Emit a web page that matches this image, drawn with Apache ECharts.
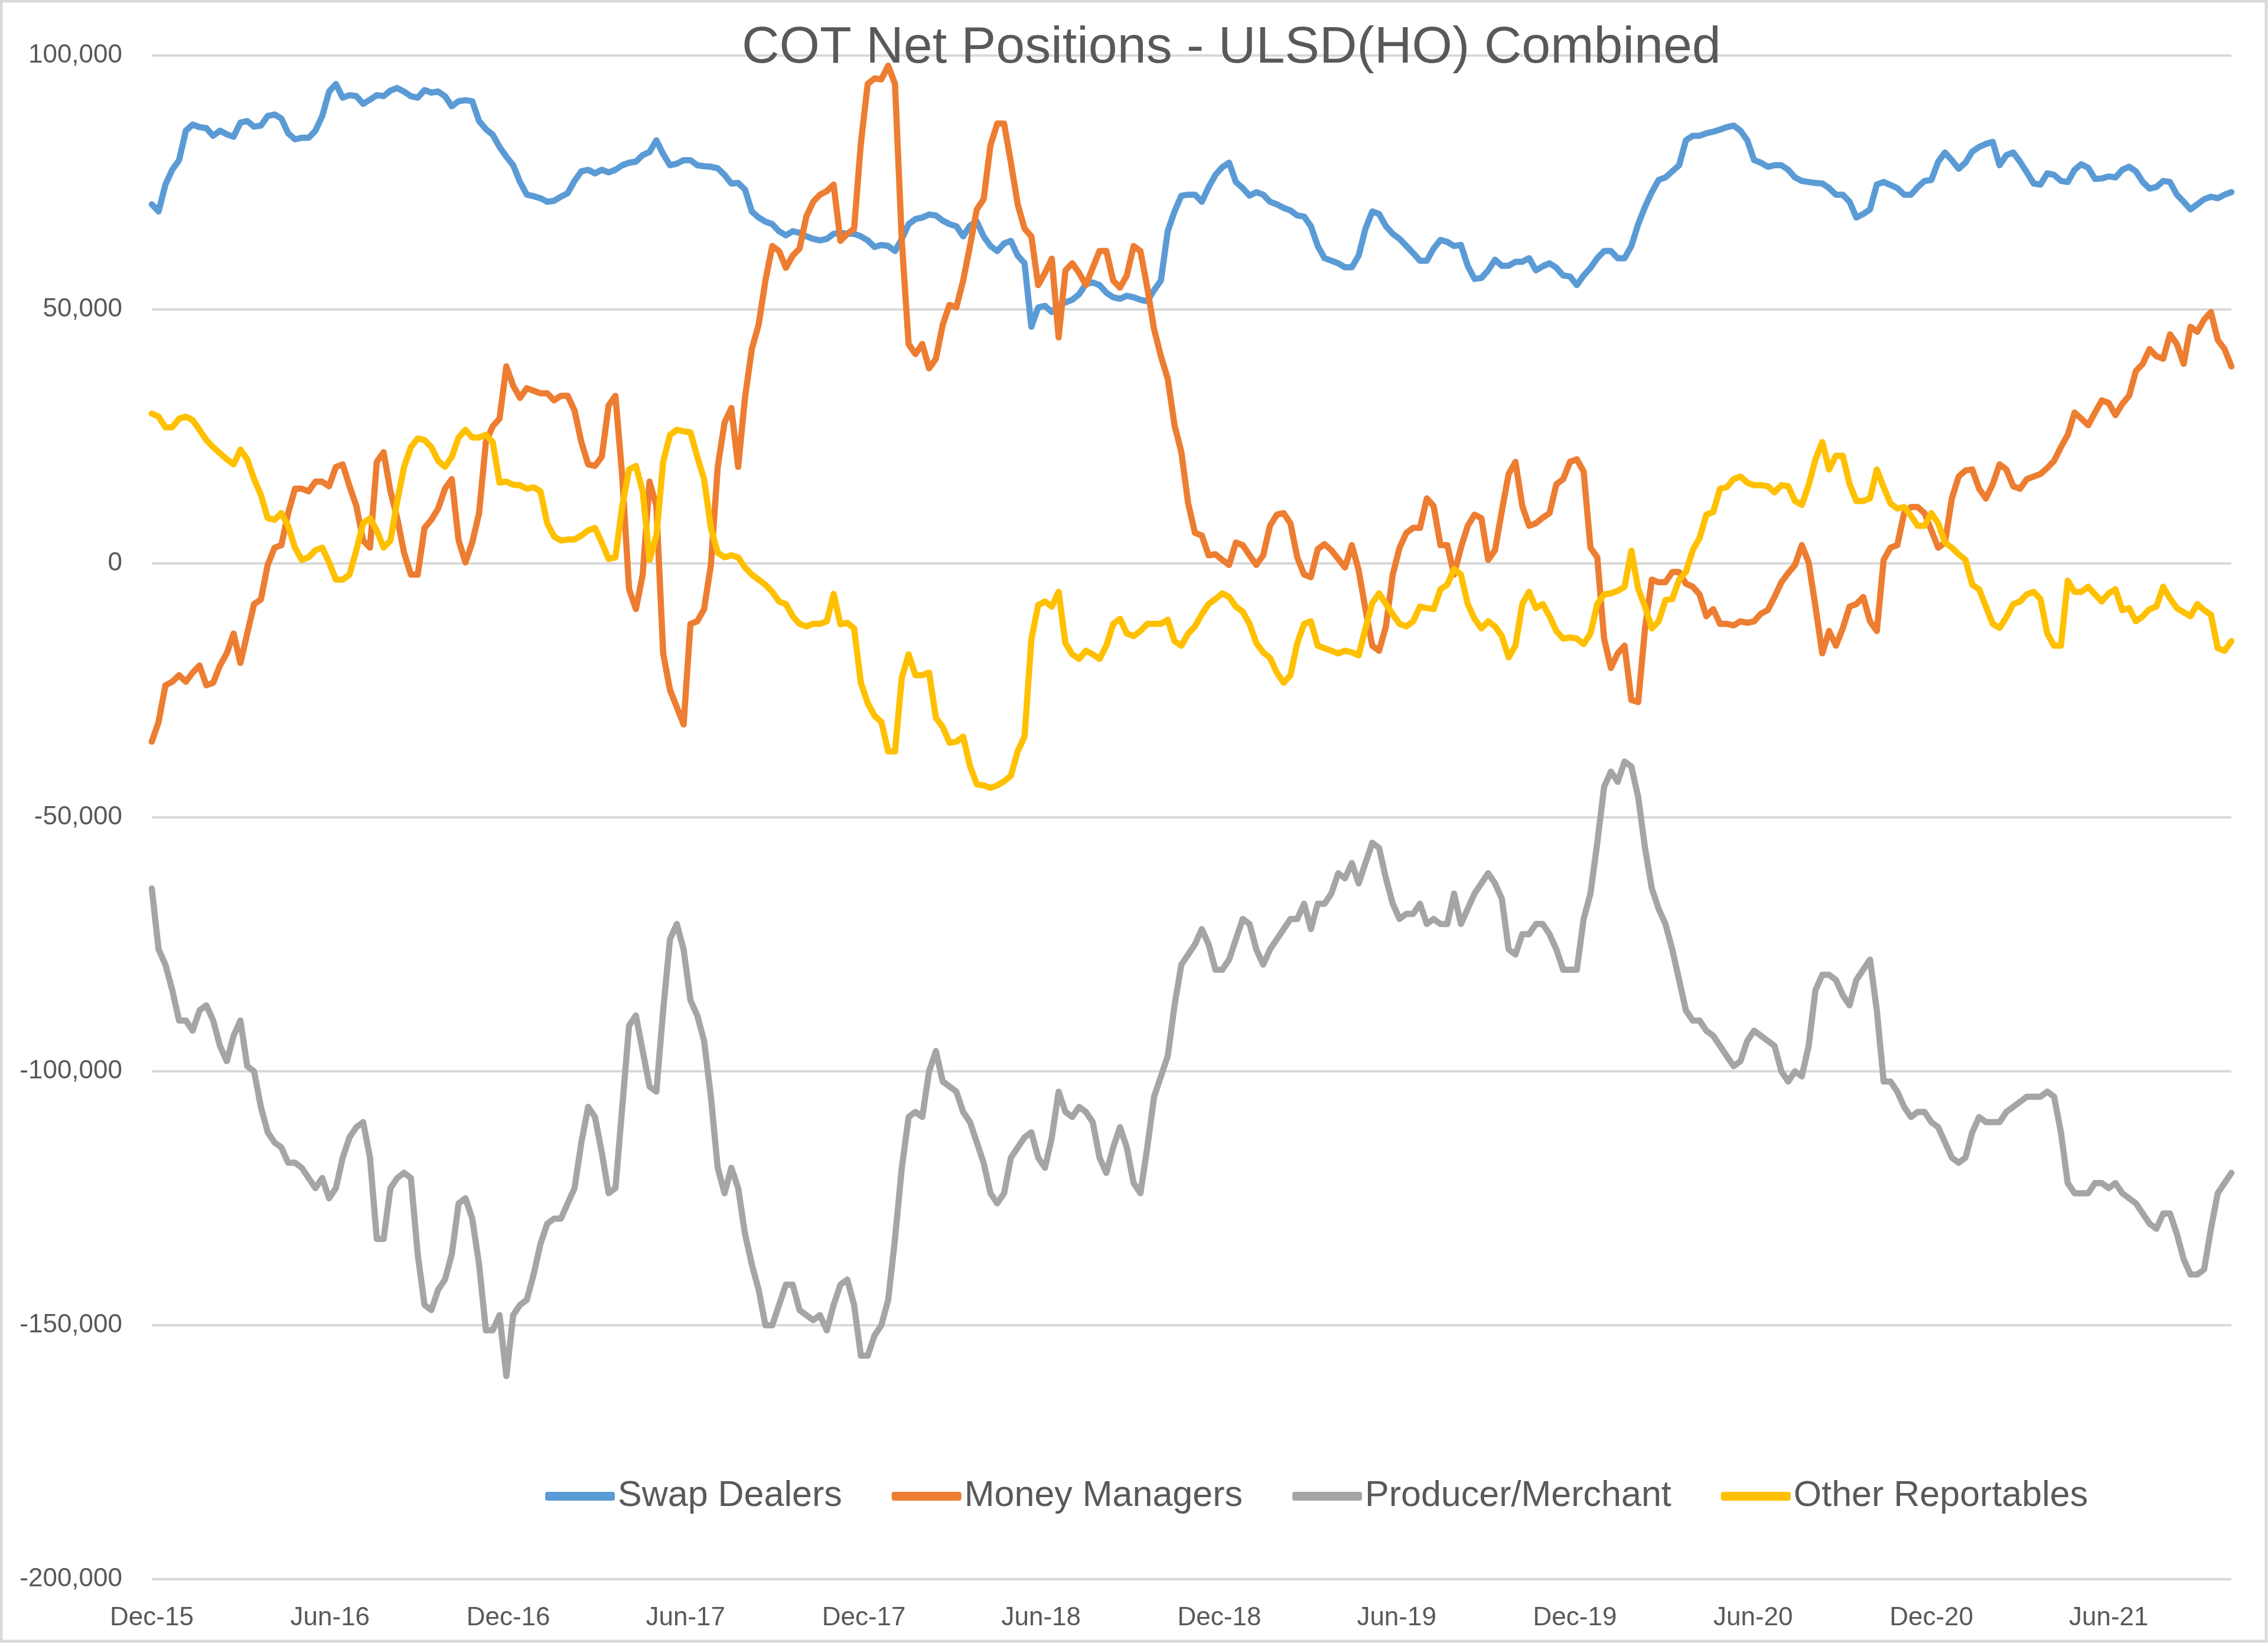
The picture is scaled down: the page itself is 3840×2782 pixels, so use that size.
<!DOCTYPE html>
<html><head><meta charset="utf-8">
<script src="https://cdn.jsdelivr.net/npm/echarts@6/dist/echarts.min.js"></script>
<style>html,body{margin:0;padding:0;background:#fff}#c{width:3840px;height:2782px}</style>
</head><body><div id="c"></div>
<script>
// Weekly COT report dates start 2015-12-01
const firstWeek = [2015, 11, 1];
const tickLabels = ['Dec-15','Jun-16','Dec-16','Jun-17','Dec-17','Jun-18','Dec-18','Jun-19','Dec-19','Jun-20','Dec-20','Jun-21'];
const tickMonths = [[2015,11],[2016,5],[2016,11],[2017,5],[2017,11],[2018,5],[2018,11],[2019,5],[2019,11],[2020,5],[2020,11],[2021,5]];
const yTicks = [-200000,-150000,-100000,-50000,0,50000,100000];

const swapDealers = [
70700,69300,74600,77500,79400,85200,86400,85900,85700,84200,
85200,84500,84000,86800,87100,86000,86200,88100,88400,87600,
84700,83500,83800,83800,85200,88100,92900,94400,91700,92200,
92000,90500,91300,92200,92000,93100,93600,92900,92000,91700,
93200,92700,92900,92000,90000,91000,91200,91000,87100,85500,
84400,82000,80100,78400,75100,72600,72300,71900,71200,71400,
72200,72900,75300,77200,77500,76800,77500,77000,77500,78400,
78900,79100,80400,81000,83300,80600,78400,78700,79400,79400,
78400,78200,78100,77800,76500,74800,74900,73600,69300,68100,
67300,66800,65400,64600,65400,65100,64400,63900,63600,63900,
64900,65100,64900,64900,64400,63600,62300,62700,62500,61500,
63900,66800,67800,68100,68700,68500,67500,66800,66400,64400,
66500,67300,64400,62500,61500,63000,63500,60600,59100,46600,
50400,50700,49500,50900,51400,51900,53000,55000,55300,54800,
53300,52400,52100,52700,52400,51900,51600,53800,55700,65400,
69300,72400,72600,72600,71200,74100,76500,78000,78900,75100,
73900,72400,73100,72600,71200,70700,70000,69500,68500,68300,
66400,62500,60100,59600,59100,58300,58300,60600,65900,69300,
68800,66400,64900,63900,62500,61100,59600,59600,62000,63700,
63300,62500,62700,58600,56000,56200,57700,59800,58600,58600,
59400,59400,60100,57700,58500,59100,58200,56700,56500,54800,
56700,58200,60100,61500,61500,60100,60100,62500,66800,70200,
73100,75500,76000,77200,78400,83300,84200,84200,84700,85000,
85400,85900,86200,85200,83300,79400,78900,78100,78400,78400,
77500,76000,75300,75100,74900,74800,73900,72600,72600,71200,
68100,68800,69700,74600,75100,74500,73900,72600,72600,74100,
75300,75500,79100,80900,79400,77700,78900,81100,82000,82600,
83000,78400,80400,80900,79100,77000,74800,74600,76800,76500,
75300,75100,77500,78600,77900,75700,75800,76200,76000,77500,
78100,77200,75100,73800,74100,75300,75100,72600,71200,69700,
70700,71700,72200,71900,72600,73100];

const moneyManagers = [
-35100,-31200,-24000,-23300,-22000,-23300,-21500,-20100,-24000,-23500,
-20100,-17700,-13800,-19600,-13800,-8000,-7100,-300,3100,3600,
9900,14700,14700,14200,16100,16100,15200,19000,19500,15200,
11300,4500,3100,20000,21900,14200,8900,2100,-2200,-2200,
7000,8600,10800,14700,16600,4500,200,4100,9900,23900,
27000,28500,38800,35000,32600,34500,34000,33500,33500,32100,
33000,33000,30100,23900,19500,19200,21000,31100,33000,17100,
-5100,-9000,-2200,16100,11300,-17700,-24900,-28300,-31700,-11900,
-11400,-9000,-300,19000,27700,30600,19000,32600,42200,47000,
55700,62500,61500,58200,60600,62000,68300,71200,72600,73300,
74600,63500,64900,65900,82800,94400,95500,95300,98000,94400,
63500,43200,41200,43200,38400,40300,47000,50900,50400,55700,
62500,69700,71700,82300,86600,86600,78900,70700,65900,64400,
54800,57200,60000,44500,57700,59100,57200,54800,58200,61500,
61500,55700,54300,56700,62500,61500,54300,46100,40800,36400,
27200,21900,11800,6000,5500,1600,1800,700,-300,4100,
3600,1600,-300,1600,7400,9600,9900,7900,1200,-2200,
-2700,2800,3800,2600,900,-800,3600,-1300,-9000,-16200,
-17200,-12400,-2200,3100,6000,7000,7000,12800,11300,3600,
3600,-2200,3100,7400,9600,8900,700,2600,10300,17600,
20000,11300,7400,7900,9000,9900,15600,16600,20000,20500,
18100,3100,1200,-14800,-20600,-17700,-16200,-26900,-27300,-12800,
-3200,-3700,-3700,-1700,-1700,-4000,-4600,-6100,-10400,-9000,
-11900,-11900,-12200,-11400,-11700,-11400,-9900,-9200,-6600,-3700,
-1900,-300,3600,200,-8500,-17700,-13300,-16200,-12800,-8500,
-8000,-6600,-11400,-13300,700,3100,3600,9900,11100,11100,
9900,6500,3100,4100,12800,17100,18300,18500,14700,12800,
15600,19500,18500,15200,14700,16600,17100,17600,18800,20200,
22900,25300,29700,28500,27200,29700,32100,31600,29200,31400,
33000,37900,39300,42200,40800,40300,45100,43200,39300,46600,
45600,48000,49500,44000,42200,38800];

const producerMerchant = [
-64000,-76000,-79000,-84000,-90000,-90000,-92000,-88000,-87000,-90000,
-95000,-98000,-93000,-90000,-99000,-100000,-107000,-112000,-114000,-115000,
-118000,-118000,-119000,-121000,-123000,-121000,-125000,-123000,-117000,-113000,
-111000,-110000,-117000,-133000,-133000,-123000,-121000,-120000,-121000,-136000,
-146000,-147000,-143000,-141000,-136000,-126000,-125000,-129000,-138000,-151000,
-151000,-148000,-160000,-148000,-146000,-145000,-140000,-134000,-130000,-129000,
-129000,-126000,-123000,-114000,-107000,-109000,-116000,-124000,-123000,-107000,
-91000,-89000,-96000,-103000,-104000,-88000,-74000,-71000,-76000,-86000,
-89000,-94000,-105000,-119000,-124000,-119000,-123000,-132000,-138000,-143000,
-150000,-150000,-146000,-142000,-142000,-147000,-148000,-149000,-148000,-151000,
-146000,-142000,-141000,-146000,-156000,-156000,-152000,-150000,-145000,-133000,
-119000,-109000,-108000,-109000,-100000,-96000,-102000,-103000,-104000,-108000,
-110000,-114000,-118000,-124000,-126000,-124000,-117000,-115000,-113000,-112000,
-117000,-119000,-113000,-104000,-108000,-109000,-107000,-108000,-110000,-117000,
-120000,-115000,-111000,-115000,-122000,-124000,-115000,-105000,-101000,-97000,
-87000,-79000,-77000,-75000,-72000,-75000,-80000,-80000,-78000,-74000,
-70000,-71000,-76000,-79000,-76000,-74000,-72000,-70000,-70000,-67000,
-72000,-67000,-67000,-65000,-61000,-62000,-59000,-63000,-59000,-55000,
-56000,-62000,-67000,-70000,-69000,-69000,-67000,-71000,-70000,-71000,
-71000,-65000,-71000,-68000,-65000,-63000,-61000,-63000,-66000,-76000,
-77000,-73000,-73000,-71000,-71000,-73000,-76000,-80000,-80000,-80000,
-70000,-65000,-55000,-44000,-41000,-43000,-39000,-40000,-46000,-56000,
-64000,-68000,-71000,-76000,-82000,-88000,-90000,-90000,-92000,-93000,
-95000,-97000,-99000,-98000,-94000,-92000,-93000,-94000,-95000,-100000,
-102000,-100000,-101000,-95000,-84000,-81000,-81000,-82000,-85000,-87000,
-82000,-80000,-78000,-88000,-102000,-102000,-104000,-107000,-109000,-108000,
-108000,-110000,-111000,-114000,-117000,-118000,-117000,-112000,-109000,-110000,
-110000,-110000,-108000,-107000,-106000,-105000,-105000,-105000,-104000,-105000,
-112000,-122000,-124000,-124000,-124000,-122000,-122000,-123000,-122000,-124000,
-125000,-126000,-128000,-130000,-131000,-128000,-128000,-132000,-137000,-140000,
-140000,-139000,-131000,-124000,-122000,-120000];

const otherReportables = [
29500,28900,26800,26800,28500,28900,28200,26300,24300,22900,
21700,20500,19500,22400,20500,16600,13500,8900,8600,9900,
7400,3100,700,1200,2600,3100,200,-3200,-3200,-2200,
2600,7900,8900,6500,3100,4500,12300,19000,22900,24600,
24300,22900,20200,19000,21000,24800,26300,24800,24800,25300,
23900,15900,16100,15500,15400,14700,15000,14200,7900,5300,
4500,4700,4700,5500,6500,7000,4100,900,1200,11300,
18500,19200,14200,700,5500,20000,25300,26300,26000,25800,
21000,16600,7000,2100,1200,1600,1200,-800,-2200,-3200,
-4200,-5600,-7500,-8000,-10400,-11900,-12400,-11900,-11900,-11400,
-6000,-12000,-11700,-12800,-23500,-27500,-30000,-31200,-37000,-37000,
-22500,-17900,-22000,-22000,-21500,-30400,-32200,-35300,-35100,-34100,
-39900,-43500,-43700,-44200,-43700,-42900,-41800,-37000,-34100,-15000,
-8200,-7500,-8500,-5600,-15700,-17900,-18800,-17200,-17900,-18800,
-16200,-11900,-10900,-13800,-14300,-13300,-11900,-11900,-11900,-11100,
-15300,-16200,-13800,-12400,-10000,-8000,-7000,-5900,-6600,-8500,
-9500,-11900,-15700,-17500,-18600,-21500,-23500,-22000,-15700,-11900,
-11400,-16200,-16700,-17200,-17700,-17200,-17500,-18100,-12800,-7800,
-5900,-8000,-10000,-11900,-12400,-11400,-8500,-8800,-9000,-5100,
-4200,-1100,-2200,-8000,-10900,-12800,-11400,-12400,-14300,-18500,
-16200,-8000,-5600,-8800,-8000,-10400,-13300,-14800,-14600,-14800,
-15900,-13800,-8000,-6100,-5900,-5400,-4600,2500,-5000,-8500,
-12800,-11400,-7200,-7000,-3200,-1700,2600,5000,9600,10100,
14700,15000,16600,17100,15900,15400,15400,15200,14000,15400,
15200,12300,11500,15400,20500,23900,18500,21200,21200,15600,
12300,12300,12800,18500,15000,11800,10800,11100,9400,7400,
7400,9900,7900,4100,3100,1800,700,-4200,-5100,-8500,
-11900,-12700,-10600,-8000,-7500,-6100,-5600,-7000,-13800,-16200,
-16200,-3400,-5600,-5600,-4600,-6100,-7500,-5900,-5100,-9200,
-8800,-11400,-10400,-9000,-8500,-4600,-6900,-8800,-9600,-10400,
-8000,-9200,-10100,-16700,-17200,-15300];

const seriesNames = ['Swap Dealers','Money Managers','Producer/Merchant','Other Reportables'];
const seriesColors = ['#5B9BD5','#ED7D31','#A5A5A5','#FFC000'];
const seriesValues = [swapDealers, moneyManagers, producerMerchant, otherReportables];

const nWeeks = swapDealers.length;
const weekTimes = [];
for (let i = 0; i < nWeeks; i++) weekTimes.push(new Date(firstWeek[0], firstWeek[1], firstWeek[2] + 7 * i).getTime());
const tickTimes = tickMonths.map(m => new Date(m[0], m[1], 1).getTime());

const FONT = 'Liberation Sans';
const TXT = '#595959';

const chart = echarts.init(document.getElementById('c'), null, {renderer: 'canvas'});
chart.setOption({
  animation: false,
  backgroundColor: '#ffffff',
  title: {
    text: 'COT Net Positions - ULSD(HO) Combined',
    left: 1251, top: 33,
    textStyle: {fontFamily: FONT, fontSize: 88, fontWeight: 'normal', color: TXT}
  },
  legend: {
    data: seriesNames,
    left: 918, top: 2498,
    itemWidth: 118, itemHeight: 15, itemGap: 84,
    icon: 'roundRect',
    textStyle: {fontFamily: FONT, fontSize: 61, color: TXT}
  },
  graphic: [{
    type: 'rect', silent: true, z: -1,
    shape: {x: 2, y: 2, width: 3835, height: 2777},
    style: {fill: 'none', stroke: '#d9d9d9', lineWidth: 5}
  }],
  grid: {left: 257, right: 62, top: 94, bottom: 108, containLabel: false},
  xAxis: {
    type: 'value',
    min: weekTimes[0], max: weekTimes[nWeeks - 1],
    axisLine: {show: false},
    axisTick: {show: false},
    splitLine: {show: false},
    axisLabel: {
      customValues: tickTimes,
      margin: 44,
      fontFamily: FONT, fontSize: 44, color: TXT,
      formatter: function (v) {
        let best = 0, bd = Infinity;
        tickTimes.forEach((t, k) => { const d = Math.abs(t - v); if (d < bd) { bd = d; best = k; } });
        return tickLabels[best];
      }
    }
  },
  yAxis: {
    type: 'value', min: yTicks[0], max: yTicks[yTicks.length - 1], interval: 50000,
    axisLine: {show: false}, axisTick: {show: false},
    splitLine: {show: true, lineStyle: {color: '#d9d9d9', width: 4}},
    axisLabel: {
      margin: 50, fontFamily: FONT, fontSize: 44, color: TXT,
      formatter: v => v.toLocaleString('en-US')
    }
  },
  series: seriesNames.map((name, k) => ({
    name: name, type: 'line', showSymbol: false, symbol: 'none',
    data: seriesValues[k].map((v, i) => [weekTimes[i], v]),
    itemStyle: {color: seriesColors[k]},
    lineStyle: {color: seriesColors[k], width: 10.5, cap: 'round', join: 'round'},
    z: 2 + k
  }))
});
</script>
</body></html>
